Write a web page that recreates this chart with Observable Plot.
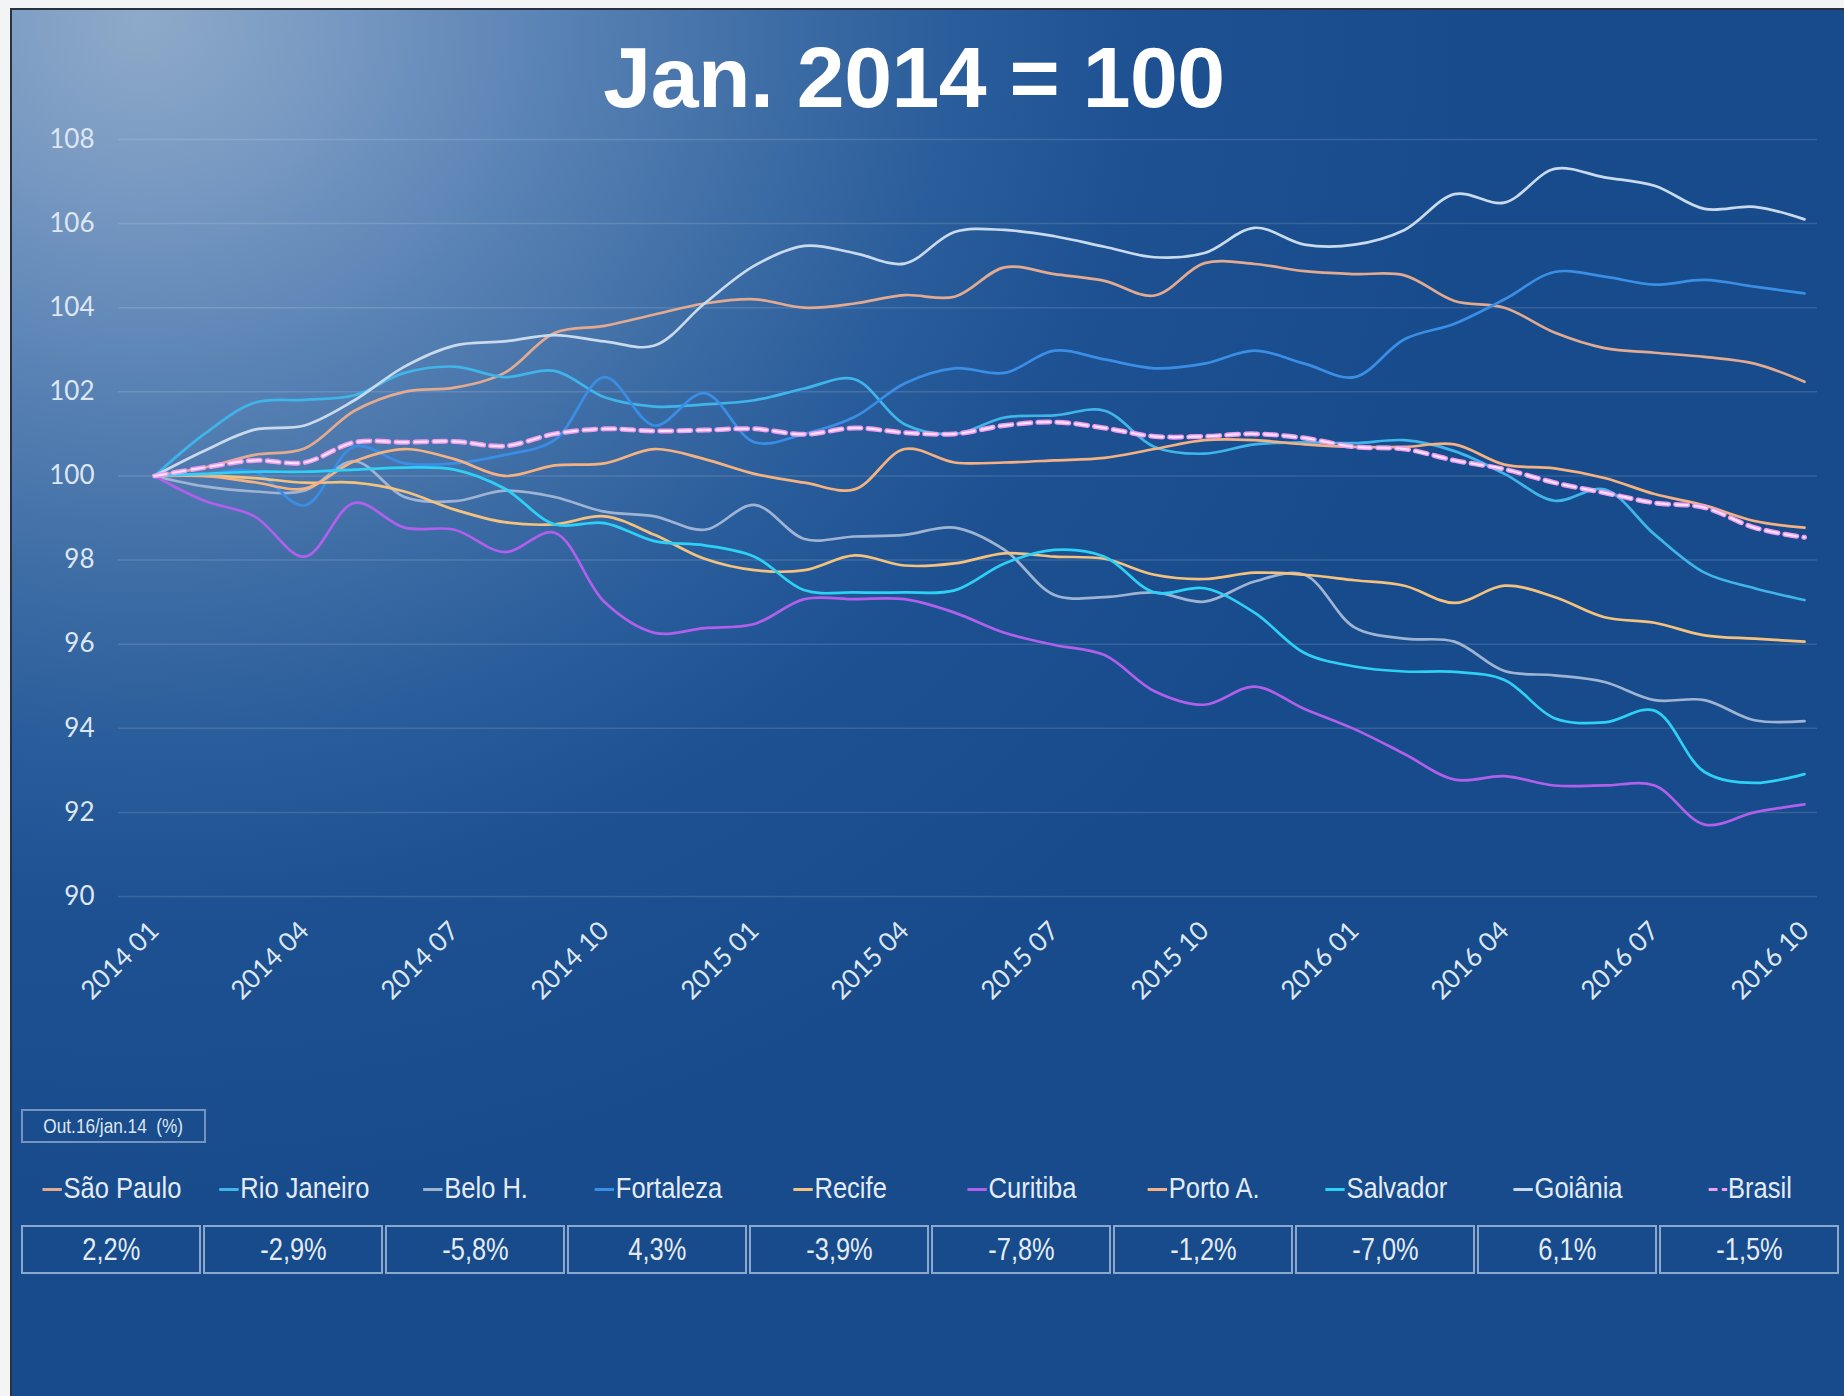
<!DOCTYPE html>
<html>
<head>
<meta charset="utf-8">
<script src="https://cdn.jsdelivr.net/npm/d3@7"></script>
<script src="https://cdn.jsdelivr.net/npm/@observablehq/plot@0.6"></script>
<style>
  html, body { margin: 0; padding: 0; background: #f3f4f6; }
  #page { position: relative; width: 1844px; height: 1396px; overflow: hidden; background: #f3f4f6; }
  #panel {
    position: absolute; left: 10px; top: 8px; right: 0; bottom: 0;
    border-left: 2px solid #2a3140; border-top: 2px solid #2a3140;
    background: radial-gradient(ellipse 1350px 1200px at 130px 10px,
      #8eaac9 0%, #7899c2 14%, #5a83b5 30%, #3f6ea6 46%, #2a5d9b 60%, #1d5192 74%, #174b8b 100%);
  }
  #chart { position: absolute; left: 0; top: 0; }
  #title {
    position: absolute; left: 0; top: 34px; width: 1828px; text-align: center;
    font-family: "Liberation Sans", Arial, sans-serif; font-weight: bold;
    font-size: 86px; line-height: 86px; color: #ffffff; letter-spacing: -0.5px;
  }
  .note {
    position: absolute; left: 21px; top: 1109px; width: 181px; height: 30px;
    border: 2px solid rgba(190, 208, 232, 0.55);
    font-family: "Liberation Sans", Arial, sans-serif;
    font-size: 21px; line-height: 30px; color: #dfe7f1; text-align: center; white-space: nowrap;
  }
  .lab {
    position: absolute; top: 1170px; height: 36px; line-height: 36px; width: 182px;
    text-align: center; white-space: nowrap;
    font-family: "Liberation Sans", Arial, sans-serif;
    font-size: 29px; color: #e4ebf4;
  }
  .box {
    position: absolute; top: 1225px; height: 45px; width: 176px;
    border: 2px solid rgba(190, 208, 232, 0.7);
    font-family: "Liberation Sans", Arial, sans-serif;
    font-size: 31px; line-height: 45px; color: #e4ebf4; text-align: center;
  }
  .narrow { display: inline-block; transform: scaleX(0.82); transform-origin: center; }
  .lab .narrow { transform: scaleX(0.88); }
  .sw { display: inline-block; width: 22px; height: 3px; vertical-align: middle; margin-right: 2px; margin-top: -2px; }
</style>
</head>
<body>
<div id="page">
  <div id="panel"></div>
  <div id="chart"></div>
  <div id="title">Jan. 2014 = 100</div>
  <div class="note"><span class="narrow">Out.16/jan.14&nbsp; (%)</span></div>
  <div id="legend"></div>
</div>
<script>
// ---- categories ----
const months = [
  "2014 01","2014 02","2014 03","2014 04","2014 05","2014 06","2014 07","2014 08","2014 09","2014 10","2014 11","2014 12",
  "2015 01","2015 02","2015 03","2015 04","2015 05","2015 06","2015 07","2015 08","2015 09","2015 10","2015 11","2015 12",
  "2016 01","2016 02","2016 03","2016 04","2016 05","2016 06","2016 07","2016 08","2016 09","2016 10"
];
const xTicks = ["2014 01","2014 04","2014 07","2014 10","2015 01","2015 04","2015 07","2015 10","2016 01","2016 04","2016 07","2016 10"];
const yTicks = [90, 92, 94, 96, 98, 100, 102, 104, 106, 108];

const cities = ["São Paulo","Rio Janeiro","Belo H.","Fortaleza","Recife","Curitiba","Porto A.","Salvador","Goiânia","Brasil"];
const cityColors = ["#e2aa90","#3fb5ea","#9fb4d3","#3a8ee6","#f2c27e","#b060ea","#f4b182","#2fd0f6","#cadaed","#f0a0ee"];
const changeOct16 = [2.2, -2.9, -5.8, 4.3, -3.9, -7.8, -1.2, -7.0, 6.1, -1.5];

// ---- series values (index Jan 2014 = 100) ----
const saoPaulo   = [100,100.2,100.5,100.65,101.55,102.0,102.1,102.45,103.4,103.57,103.84,104.1,104.2,104.0,104.1,104.3,104.26,104.96,104.8,104.64,104.29,105.06,105.04,104.87,104.8,104.77,104.16,104.0,103.41,103.04,102.93,102.83,102.67,102.24];
const rioJaneiro = [100,101.0,101.74,101.81,101.92,102.45,102.6,102.35,102.5,101.87,101.65,101.7,101.8,102.08,102.3,101.23,101.0,101.39,101.44,101.55,100.69,100.53,100.75,100.8,100.78,100.85,100.59,100.05,99.41,99.68,98.61,97.7,97.33,97.05];
const beloH      = [100,99.75,99.63,99.65,100.35,99.5,99.4,99.65,99.5,99.15,99.04,98.72,99.31,98.5,98.56,98.6,98.77,98.24,97.17,97.12,97.23,97.01,97.49,97.65,96.4,96.13,96.06,95.36,95.26,95.1,94.67,94.67,94.19,94.17];
const fortaleza  = [100,100.05,100.1,99.3,100.7,100.3,100.3,100.5,100.85,102.35,101.2,101.97,100.8,101.0,101.4,102.2,102.56,102.45,102.98,102.77,102.56,102.67,102.98,102.67,102.35,103.25,103.62,104.2,104.85,104.74,104.55,104.66,104.5,104.34];
const recife     = [100,100.0,99.95,99.84,99.84,99.63,99.2,98.9,98.85,99.04,98.6,98.03,97.76,97.76,98.11,97.87,97.92,98.16,98.08,98.03,97.65,97.55,97.7,97.65,97.52,97.39,96.98,97.39,97.12,96.64,96.51,96.21,96.13,96.06];
const curitiba   = [100,99.41,99.04,98.08,99.36,98.77,98.72,98.19,98.65,97.0,96.27,96.38,96.48,97.07,97.07,97.07,96.75,96.27,95.98,95.74,94.88,94.56,94.99,94.46,93.98,93.39,92.78,92.86,92.64,92.64,92.64,91.71,92.0,92.19];
const portoA     = [100,100.0,99.85,99.7,100.35,100.64,100.4,100.0,100.25,100.3,100.64,100.4,100.05,99.84,99.68,100.64,100.32,100.32,100.37,100.43,100.64,100.85,100.85,100.75,100.69,100.69,100.75,100.27,100.18,99.95,99.57,99.3,98.93,98.77];
const salvador   = [100,100.05,100.1,100.1,100.15,100.2,100.15,99.7,98.85,98.88,98.45,98.35,98.08,97.28,97.23,97.23,97.28,97.92,98.24,98.08,97.23,97.33,96.75,95.79,95.47,95.35,95.34,95.15,94.24,94.14,94.42,92.96,92.7,92.91];
const goiania    = [100,100.6,101.1,101.2,101.8,102.6,103.1,103.2,103.35,103.2,103.1,104.1,105.0,105.47,105.3,105.05,105.8,105.85,105.7,105.45,105.2,105.3,105.9,105.5,105.5,105.85,106.7,106.5,107.3,107.1,106.9,106.35,106.4,106.1];
const brasil     = [100,100.2,100.37,100.32,100.8,100.8,100.82,100.71,101.0,101.12,101.07,101.09,101.12,100.99,101.14,101.03,101.0,101.2,101.28,101.14,100.94,100.94,101.0,100.9,100.69,100.64,100.37,100.16,99.84,99.6,99.36,99.25,98.77,98.54];

const seriesList = [saoPaulo, rioJaneiro, beloH, fortaleza, recife, curitiba, portoA, salvador, goiania, brasil];
const rows = cities.flatMap((c, k) => seriesList[k].map((v, i) => ({city: c, month: months[i], value: v})));
const cityRows = rows.filter(d => d.city !== "Brasil");
const brasilRows = rows.filter(d => d.city === "Brasil");

const chart = Plot.plot({
  width: 1844,
  height: 1030,
  marginLeft: 118,
  marginRight: 27,
  marginTop: 139,
  marginBottom: 134,
  style: {background: "transparent", color: "#dde6f1", fontFamily: "Lato, 'Open Sans', sans-serif", fontSize: "26px"},
  x: {type: "point", domain: months, padding: 0, insetLeft: 29, insetRight: 6},
  y: {domain: [90, 108]},
  color: {domain: cities, range: cityColors},
  marks: [
    Plot.gridY({ticks: yTicks, stroke: "#ffffff", strokeOpacity: 0.13, strokeWidth: 1.5}),
    Plot.axisY({ticks: yTicks, tickSize: 0, tickPadding: 24, label: null, fontSize: 26}),
    Plot.axisX({ticks: xTicks, tickSize: 0, tickPadding: 30, tickRotate: -45, label: null, fontSize: 26}),
    Plot.line(cityRows, {x: "month", y: "value", z: "city", stroke: "city", strokeWidth: 2.7, curve: "catmull-rom"}),
    Plot.line(brasilRows, {x: "month", y: "value", stroke: "#ee9cec", strokeWidth: 5, strokeDasharray: "12,7", curve: "catmull-rom"}),
    Plot.line(brasilRows, {x: "month", y: "value", stroke: "#fde3fb", strokeWidth: 2, strokeDasharray: "12,7", curve: "catmull-rom"})
  ]
});
document.getElementById("chart").appendChild(chart);

// ---- legend and table ----
const legend = document.getElementById("legend");
const fmt = v => v.toFixed(1).replace(".", ",") + "%";
cities.forEach((c, k) => {
  const left = 21 + k * 182;
  const lab = document.createElement("div");
  lab.className = "lab";
  lab.style.left = left + "px";
  const sw = c === "Brasil"
    ? `<span class="sw" style="width:10px;background:${cityColors[k]};margin-right:5px"></span><span class="sw" style="width:6px;background:${cityColors[k]};margin-right:1px"></span>`
    : `<span class="sw" style="background:${cityColors[k]}"></span>`;
  lab.innerHTML = `<span class="narrow">${sw}${c}</span>`;
  legend.appendChild(lab);
  const box = document.createElement("div");
  box.className = "box";
  box.style.left = left + "px";
  box.innerHTML = `<span class="narrow">${fmt(changeOct16[k])}</span>`;
  legend.appendChild(box);
});
</script>
</body>
</html>
